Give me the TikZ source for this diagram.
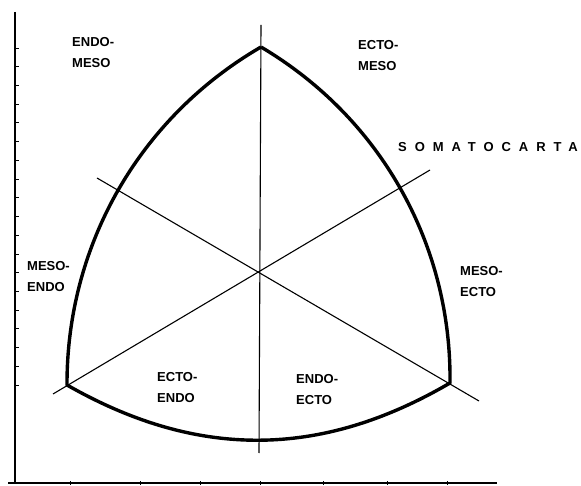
\documentclass[tikz,border=0pt]{standalone}
\usepackage{fontspec}
\setmainfont{Liberation Sans}
\begin{document}
\begin{tikzpicture}[x=1pt,y=1pt,
  label/.style={font=\fontsize{13}{21}\selectfont\bfseries, align=left, inner sep=0pt, anchor=west},
  thinline/.style={line width=1.1pt},
  outline/.style={line width=3.4pt, line join=round},
  axis/.style={line width=1.5pt}]
\useasboundingbox (0,0) rectangle (581,485);
% axes
\coordinate (ax0) at (15,2);
\coordinate (axt) at (15,473);
\coordinate (axr) at (497,2);
\coordinate (axl) at (8,2);
\draw[axis] (axt) -- (ax0);
\draw[axis] (axl) -- (axr);
\foreach \k in {0,...,18}{
  \draw[line width=0.8pt] (15,437-18.72*\k) -- (18.5,437-18.72*\k);
}
\foreach \xx in {70,140,200,260,323,387,447}{
  \draw[line width=0.8pt] (\xx,0.5) -- (\xx,4);
}
% Reuleaux triangle
\coordinate (A) at (261,438);
\coordinate (B) at (67,100);
\coordinate (C) at (450,102);
\draw[outline] (A) to[bend right=30, looseness=0.92] (B)
               to[bend right=30, looseness=1] (C)
               to[bend right=30, looseness=0.92] (A);
% axes of the chart
\coordinate (vt) at (261,460);
\coordinate (vb) at (259,32);
\coordinate (d1a) at (97,307);
\coordinate (d1b) at (479,84);
\coordinate (d2a) at (53,91);
\coordinate (d2b) at (430,315);
\draw[thinline] (vt) -- (vb);
\draw[thinline] (d1a) -- (d1b);
\draw[thinline] (d2a) -- (d2b);
% labels
\node[label] (em) at (72,432.5) {ENDO-\\MESO};
\node[label] (cm) at (358,429.5) {ECTO-\\MESO};
\node[label] (me) at (27,208.5) {MESO-\\ENDO};
\node[label] (mc) at (460,203) {MESO-\\ECTO};
\node[label] (ce) at (157,97.5) {ECTO-\\ENDO};
\node[label] (ec) at (296,95) {ENDO-\\ECTO};
\node[label, font=\fontsize{13}{14}\selectfont\bfseries\addfontfeature{LetterSpace=61}] (som) at (398,338) {SOMATOCARTA};
\end{tikzpicture}
\end{document}
